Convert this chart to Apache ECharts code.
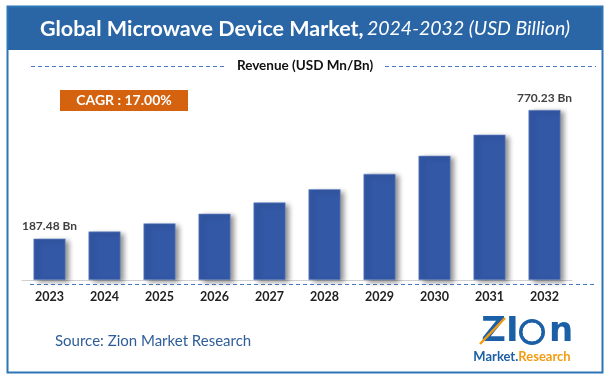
<!DOCTYPE html>
<html>
<head>
<meta charset="utf-8">
<script src="https://cdn.jsdelivr.net/npm/echarts@6/dist/echarts.min.js"></script>
<style>
html,body{margin:0;padding:0;background:#fff;}
#chart{width:609px;height:383px;}
</style>
</head>
<body>
<div id="chart"></div>
<script>
const years = ['2023','2024','2025','2026','2027','2028','2029','2030','2031','2032'];
const revenue = [187.48, 219.4, 256.6, 300.3, 351.3, 411.0, 480.9, 562.7, 658.3, 770.23];
const labelledYears = ['2023','2032'];
const titleMain = 'Global Microwave Device Market,';
const titleSub = '2024-2032 (USD Billion)';
const seriesName = 'Revenue (USD Mn/Bn)';
const cagrText = 'CAGR : 17.00%';
const sourceText = 'Source: Zion Market Research';

const FONT = 'Lato, "Open Sans", sans-serif';
const chart = echarts.init(document.getElementById('chart'), null, {renderer:'canvas'});
const dash = {stroke:'#4A78C8', lineWidth:1, lineDash:[4,3]};
const LOGO = '"DejaVu Sans", sans-serif';
chart.setOption({
  animation:false,
  backgroundColor:'#fff',
  textStyle:{fontFamily:FONT},
  grid:{left:22, right:37, top:103.4, bottom:103},
  xAxis:{
    type:'category', data:years,
    axisLine:{lineStyle:{color:'#D0D0D0', width:1}},
    axisTick:{show:false},
    axisLabel:{color:'#222', fontWeight:'bold', fontSize:12.5, margin:10, fontFamily:FONT}
  },
  yAxis:{type:'value', min:0, max:800, show:false, splitLine:{show:false}},
  series:[{
    name:seriesName, type:'bar', data:revenue, barWidth:32,
    itemStyle:{color:'#3358A6', borderColor:'#6F8CC8', borderWidth:0.6,
      shadowColor:'rgba(0,0,0,0.45)', shadowBlur:5, shadowOffsetX:4, shadowOffsetY:2},
    label:{show:true, position:'top', distance:6, color:'#404040', fontWeight:'bold', fontSize:12, fontFamily:FONT,
      formatter:p => labelledYears.includes(p.name) ? p.value.toFixed(2)+' Bn' : ''}
  }],
  graphic:[
    {type:'rect', shape:{x:7.5, y:6.5, width:595, height:366}, style:{fill:'none', stroke:'#2E75B6', lineWidth:2}, z:100},
    {type:'rect', shape:{x:7, y:6, width:596, height:44}, style:{fill:'#2A66A6'}, z:99},
    {type:'text', x:305, y:29, z:101, style:{
      text:'{a|'+titleMain+'} {b|'+titleSub+'}', align:'center', verticalAlign:'middle',
      rich:{a:{fill:'#fff', fontSize:21.5, fontWeight:'bold', fontFamily:FONT},
            b:{fill:'#fff', fontSize:19.5, fontStyle:'italic', fontFamily:FONT}}}},
    {type:'line', shape:{x1:31, y1:66.5, x2:226, y2:66.5}, style:dash},
    {type:'line', shape:{x1:385, y1:66.5, x2:596, y2:66.5}, style:dash},
    {type:'text', x:305, y:66, style:{text:seriesName, align:'center', verticalAlign:'middle',
      fill:'#111', fontSize:13.5, fontWeight:'bold', fontFamily:FONT}},
    {type:'rect', shape:{x:60, y:90, width:128, height:21}, style:{fill:'#D4620F'}},
    {type:'text', x:124, y:100.5, style:{text:cagrText, align:'center', verticalAlign:'middle',
      fill:'#fff', fontSize:14, fontWeight:'bold', fontFamily:FONT}},
    {type:'line', shape:{x1:30, y1:284.5, x2:595, y2:284.5}, style:dash},
    {type:'text', x:55, y:341, style:{text:sourceText, align:'left', verticalAlign:'middle',
      fill:'#2E5E9A', fontSize:15, fontFamily:FONT}},
    {type:'text', x:500, y:332, style:{text:'ZI', align:'center', verticalAlign:'middle',
      fill:'#1B5FA6', fontSize:34, fontWeight:900, fontFamily:LOGO}},
    {type:'circle', shape:{cx:532, cy:332, r:13}, style:{fill:'#1B5FA6'}},
    {type:'circle', shape:{cx:532, cy:332, r:10}, style:{fill:'#fff', stroke:'#1B5FA6', lineWidth:1}},
    {type:'text', x:561, y:332, style:{text:'n', align:'center', verticalAlign:'middle', fill:'#1B5FA6', fontSize:34, fontWeight:900, fontFamily:LOGO}},
    {type:'line', shape:{x1:480, y1:344, x2:505, y2:318}, style:{stroke:'#F39C12', lineWidth:2.5}},
    {type:'text', x:522, y:357, style:{text:'{m|Market.}{r|Research}', align:'center', verticalAlign:'middle',
      rich:{m:{fill:'#1B5FA6', fontSize:13, fontWeight:'bold', fontFamily:FONT},
            r:{fill:'#F39C12', fontSize:13, fontWeight:'bold', fontFamily:FONT}}}}
  ]
});
</script>
</body>
</html>
